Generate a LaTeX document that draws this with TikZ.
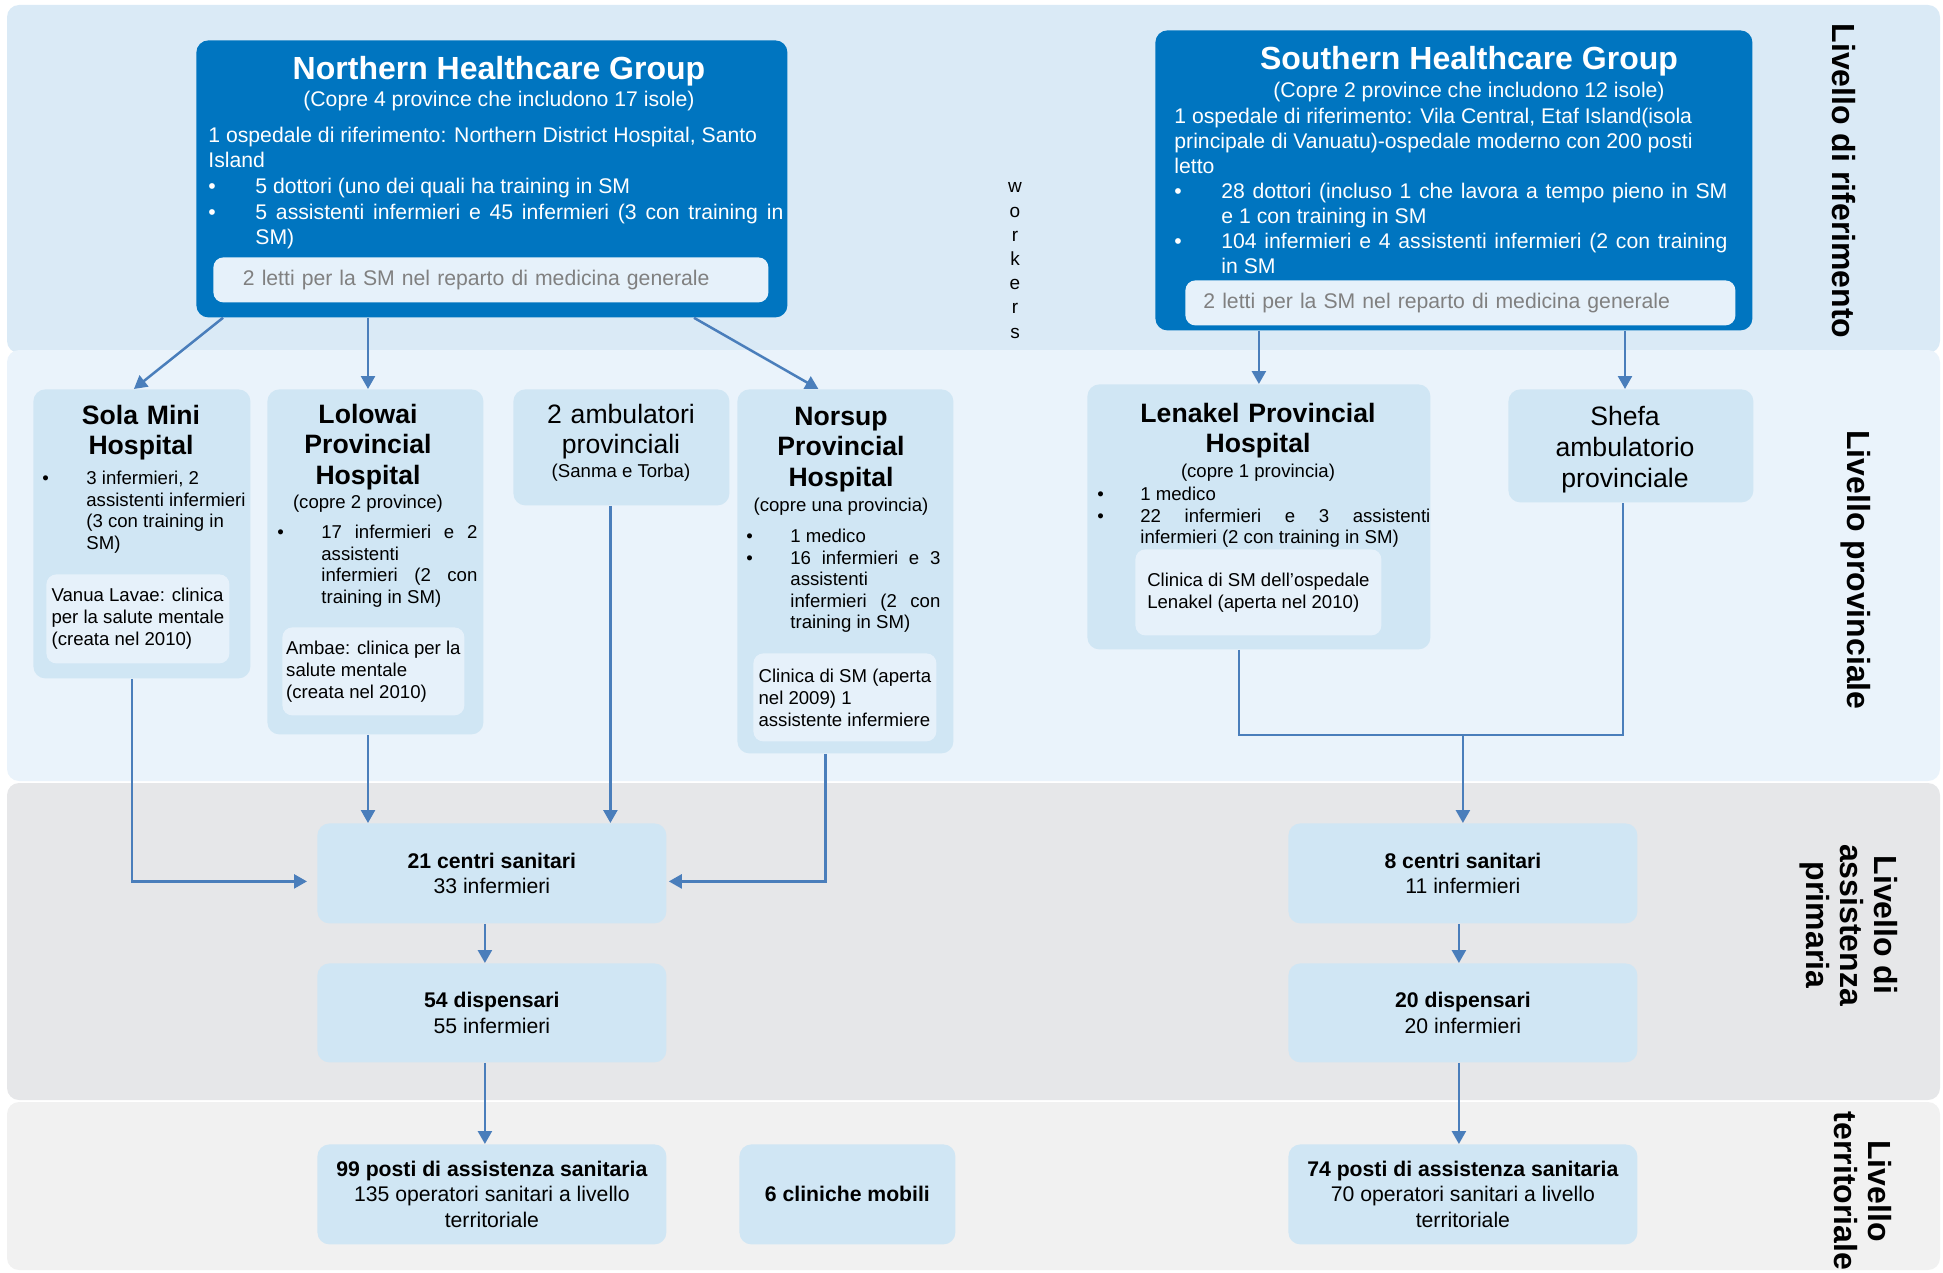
\documentclass[tikz,border=0pt]{standalone}
\usepackage{fontspec}
\setmainfont{Liberation Sans}
\usetikzlibrary{arrows.meta,calc}

\definecolor{bandone}{RGB}{218,234,246}
\definecolor{bandtwo}{RGB}{234,243,251}
\definecolor{bandthree}{RGB}{230,231,233}
\definecolor{bandfour}{RGB}{241,241,241}
\definecolor{groupblue}{RGB}{0,117,192}
\definecolor{provblue}{RGB}{208,230,244}
\definecolor{paleblue}{RGB}{230,241,250}
\definecolor{linkblue}{RGB}{74,126,187}
\definecolor{bedgrey}{RGB}{128,128,128}

\newcommand{\fsz}[2]{\fontsize{#1}{#2}\selectfont\setlength{\normalbaselineskip}{#2}}
\newcommand{\blt}[2]{\par\hangindent=#1\hangafter=1\noindent\makebox[#1][l]{\textbullet}#2\par}

\tikzset{
  groupbox/.style = {fill = groupblue, rounded corners = 6pt, anchor = north west, inner sep = 0pt},
  provbox/.style = {fill = provblue, rounded corners = 6pt, anchor = north west, inner sep = 0pt},
  palebox/.style = {fill = paleblue, rounded corners = 5pt, anchor = north west, inner sep = 0pt, align = left},
  grouphead/.style = {anchor = base, inner sep = 0pt, text = white, font = \fsz{16pt}{19pt}\bfseries},
  groupsub/.style = {anchor = base, inner sep = 0pt, text = white, font = \fsz{10.6pt}{12.5pt}},
  groupbody/.style = {anchor = base west, inner sep = 0pt, align = justify, text = white, font = \fsz{10.6pt}{12.5pt}},
  provhead/.style = {anchor = base, inner sep = 0pt, align = center, font = \fsz{13.3pt}{15.3pt}\bfseries},
  provsub/.style = {anchor = base, inner sep = 0pt, font = \fsz{9.3pt}{10.7pt}},
  provbody/.style = {anchor = north west, inner sep = 0pt, align = justify, font = \fsz{9.3pt}{10.7pt}},
  levelbox/.style = {provbox, align = center, font = \fsz{10.6pt}{12.8pt}},
  levellabel/.style = {rotate = -90, inner sep = 0pt, align = center, font = \fsz{16pt}{17pt}\bfseries},
  link/.style = {draw = linkblue, line width = 1.25pt, -{Triangle[length = 6.5pt, width = 7pt]}},
  joint/.style = {draw = linkblue, line width = 1.25pt}
}

\begin{document}
\begin{tikzpicture}[x = 0.5pt, y = -0.5pt]
  \useasboundingbox (0,0) rectangle (1943,1273);

  \fill [bandone, rounded corners = 6pt] (7,5) rectangle (1940,353);
  \fill [bandtwo, rounded corners = 6pt] (7,350) rectangle (1940,781);
  \fill [bandthree, rounded corners = 6pt] (7,783) rectangle (1940,1100);
  \fill [bandfour, rounded corners = 6pt] (7,1102) rectangle (1940,1270);

  \node [levellabel] (lvref) at (1844,181) {Livello di riferimento};
  \node [levellabel] (lvprov) at (1856,570) {Livello provinciale};
  \node [levellabel] (lvprim) at (1849,925) {Livello di\\assistenza\\primaria};
  \node [levellabel] (lvterr) at (1863,1191) {Livello\\territoriale};

  \node [groupbox, minimum width = 295.5pt, minimum height = 138.5pt] (north) at (196,40) {};
  \node [grouphead] (northt) at (499,80) {Northern Healthcare Group};
  \node [groupsub] (norths) at (499,107) {(Copre 4 province che includono 17 isole)};
  \node [groupbody, text width = 287.5pt] (northb) at (208,143) {\setlength{\parskip}{0.5pt}%
    1 ospedale di riferimento: Northern District Hospital, Santo\\Island\par
    \blt{23.5pt}{5 dottori (uno dei quali ha training in SM}
    \blt{23.5pt}{5 assistenti infermieri e 45 infermieri (3 con training in\linebreak SM)}};
  \node [palebox, minimum width = 277.5pt, minimum height = 22.5pt, text width = 248pt, inner xsep = 14.75pt, text = bedgrey, font = \fsz{10.6pt}{12.5pt}] (northi) at (213,257) {2 letti per la SM nel reparto di medicina generale};

  \node [groupbox, minimum width = 298.5pt, minimum height = 150pt] (south) at (1155,30) {};
  \node [grouphead] (southt) at (1469,70) {Southern Healthcare Group};
  \node [groupsub] (souths) at (1469,98) {(Copre 2 province che includono 12 isole)};
  \node [groupbody, text width = 276.5pt] (southb) at (1174,124) {%
    1 ospedale di riferimento: Vila Central, Etaf Island(isola\\principale di Vanuatu)-ospedale moderno con 200 posti\\letto\par
    \blt{23.5pt}{28 dottori (incluso 1 che lavora a tempo pieno in SM\linebreak e 1 con training in SM}
    \blt{23.5pt}{104 infermieri e 4 assistenti infermieri (2 con training\linebreak in SM}};
  \node [palebox, minimum width = 275pt, minimum height = 22.5pt, text width = 257pt, inner xsep = 9pt, text = bedgrey, font = \fsz{10.6pt}{12.5pt}] (southi) at (1185,280) {2 letti per la SM nel reparto di medicina generale};

  \node [anchor = base, inner sep = 0pt, text width = 12pt, align = center, font = \fsz{9.5pt}{12.1pt}] (workers) at (1015,193) {w\\o\\r\\k\\e\\r\\s};

  \node [provbox, minimum width = 108.5pt, minimum height = 144.5pt] (sola) at (33,389) {};
  \node [provhead, text width = 100pt] (solat) at (141,424) {Sola Mini\\Hospital};
  \node [provbody, text width = 104pt] (solab) at (42,463) {\blt{22pt}{3 infermieri, 2\newline assistenti infermieri\newline (3 con training in\newline SM)}};
  \node [palebox, minimum width = 91.5pt, minimum height = 44.5pt, font = \fsz{9.3pt}{11pt}] (solai) at (46,574) {Vanua Lavae: clinica\\per la salute mentale\\(creata nel 2010)};

  \node [provbox, minimum width = 108pt, minimum height = 172.5pt] (lolo) at (267,389) {};
  \node [provhead, text width = 100pt] (lolot) at (368,423) {Lolowai\\Provincial\\Hospital};
  \node [provsub] (lolos) at (368,508) {(copre 2 province)};
  \node [provbody, text width = 100pt] (lolob) at (277,517) {\blt{22pt}{17 infermieri e 2\linebreak assistenti\newline infermieri (2 con\linebreak training in SM)}};
  \node [palebox, minimum width = 91pt, minimum height = 44pt, font = \fsz{9.3pt}{11pt}] (loloi) at (282,627) {Ambae: clinica per la\\salute mentale\\(creata nel 2010)};

  \node [provbox, minimum width = 108pt, minimum height = 58pt] (amb) at (513,389) {};
  \node [provhead, text width = 100pt, font = \fsz{13.3pt}{15pt}] (ambt) at (621,423) {2 ambulatori\\provinciali};
  \node [provsub] (ambs) at (621,477) {(Sanma e Torba)};

  \node [provbox, minimum width = 108pt, minimum height = 182pt] (norsup) at (737,389) {};
  \node [provhead, text width = 100pt] (norsupt) at (841,425) {Norsup\\Provincial\\Hospital};
  \node [provsub] (norsups) at (841,511) {(copre una provincia)};
  \node [provbody, text width = 97pt] (norsupb) at (746,521) {\blt{22pt}{1 medico}\blt{22pt}{16 infermieri e 3\linebreak assistenti\newline infermieri (2 con\linebreak training in SM)}};
  \node [palebox, minimum width = 91.5pt, minimum height = 44pt, font = \fsz{9.3pt}{11pt}] (norsupi) at (753,653) {Clinica di SM (aperta\\nel 2009) 1\\assistente infermiere};

  \node [provbox, minimum width = 171.5pt, minimum height = 132.5pt] (lenakel) at (1087,384) {};
  \node [provhead, text width = 160pt] (lenakelt) at (1258,422) {Lenakel Provincial\\Hospital};
  \node [provsub] (lenakels) at (1258,477) {(copre 1 provincia)};
  \node [provbody, text width = 166.5pt] (lenakelb) at (1097,479) {\blt{21.5pt}{1 medico}\blt{21.5pt}{22 infermieri e 3 assistenti\linebreak infermieri (2 con training in SM)}};
  \node [palebox, minimum width = 123pt, minimum height = 43pt, font = \fsz{9.3pt}{11pt}] (lenakeli) at (1135,549) {Clinica di SM dell’ospedale\\Lenakel (aperta nel 2010)};

  \node [provbox, minimum width = 122.5pt, minimum height = 56.5pt] (shefa) at (1508,389) {};
  \node [provhead, text width = 110pt, font = \fsz{13.3pt}{15.5pt}] (shefat) at (1625,425) {Shefa\\ambulatorio\\provinciale};

  \node [levelbox, minimum width = 174.5pt, minimum height = 50pt] (ctr21) at (317,823) {\textbf{21 centri sanitari}\\33 infermieri};
  \node [levelbox, minimum width = 174.5pt, minimum height = 49.5pt] (disp54) at (317,963) {\textbf{54 dispensari}\\55 infermieri};
  \node [levelbox, minimum width = 174.5pt, minimum height = 50pt] (post99) at (317,1144) {\textbf{99 posti di assistenza sanitaria}\\135 operatori sanitari a livello\\territoriale};
  \node [levelbox, minimum width = 108pt, minimum height = 50pt] (mob6) at (739,1144) {\textbf{6 cliniche mobili}};
  \node [levelbox, minimum width = 174.5pt, minimum height = 50pt] (ctr8) at (1288,823) {\textbf{8 centri sanitari}\\11 infermieri};
  \node [levelbox, minimum width = 174.5pt, minimum height = 49.5pt] (disp20) at (1288,963) {\textbf{20 dispensari}\\20 infermieri};
  \node [levelbox, minimum width = 174.5pt, minimum height = 50pt] (post74) at (1288,1144) {\textbf{74 posti di assistenza sanitaria}\\70 operatori sanitari a livello\\territoriale};

  \draw [link] ($(north.south west)+(27,0)$) -- ($(sola.north)+(-8,0)$);
  \draw [link] (north.south -| lolot) -- (lolo.north -| lolot);
  \draw [link] ($(north.south west)+(498,0)$) -- ($(norsup.north)+(-27,0)$);
  \draw [link] (south.south -| lenakel.north) -- (lenakel.north);
  \draw [link] (south.south -| shefat) -- (shefa.north -| shefat);

  \draw [link] ($(sola.south)+(-10,0)$) |- ($(ctr21.west)+(-10,8)$);
  \draw [link] (lolo.south -| lolot) -- (ctr21.north -| lolot);
  \draw [link] ($(amb.south)+(-11,0)$) coordinate (ambdown) -- (ambdown |- ctr21.north);
  \draw [link] ($(norsup.south)+(-20,0)$) |- ($(ctr21.east)+(2,8)$);

  \coordinate (meet) at (1623,735);
  \draw [joint] ($(lenakel.south)+(-20,0)$) |- (meet) -- (shefa.south -| meet);
  \draw [link] (ctr8.north |- meet) -- (ctr8.north);

  \draw [link] ($(ctr21.south)+(-7,0)$) coordinate (cdown) -- (cdown |- disp54.north);
  \draw [link] ($(disp54.south)+(-7,0)$) coordinate (ddown) -- (ddown |- post99.north);
  \draw [link] ($(ctr8.south)+(-4,0)$) coordinate (edown) -- (edown |- disp20.north);
  \draw [link] ($(disp20.south)+(-4,0)$) coordinate (fdown) -- (fdown |- post74.north);
\end{tikzpicture}
\end{document}
